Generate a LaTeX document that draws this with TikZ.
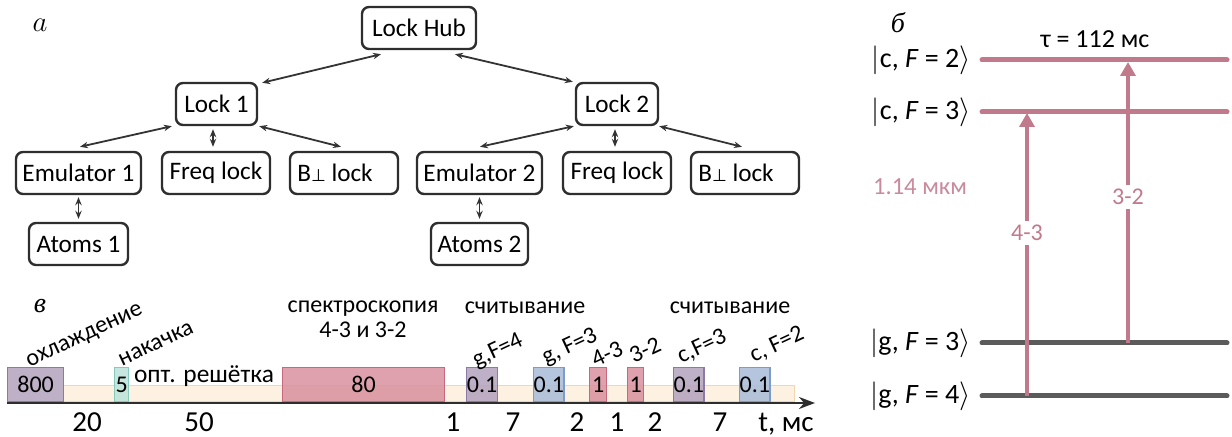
\documentclass[tikz,border=0pt]{standalone}
\usepackage{fontspec}
\setmainfont{Carlito}
\newfontfamily\panelfont{Liberation Serif}
\newfontfamily\symfont{DejaVu Sans}
\usetikzlibrary{arrows.meta,calc}

\definecolor{boxline}{HTML}{2E2E2E}
\definecolor{linkcol}{HTML}{333333}
\definecolor{lvlpink}{HTML}{C17A8B}
\definecolor{lvlgray}{HTML}{5B5B5B}
\definecolor{wavecol}{HTML}{C98A9B}
\definecolor{bandfill}{HTML}{FDF1E1}
\definecolor{banddraw}{HTML}{F5D5B0}
\definecolor{purpfill}{HTML}{B3A2BD}
\definecolor{purpdraw}{HTML}{8C7AA4}
\definecolor{tealfill}{HTML}{BCE3DA}
\definecolor{tealdraw}{HTML}{86CABE}
\definecolor{redfill}{HTML}{D9909F}
\definecolor{reddraw}{HTML}{C8687C}
\definecolor{bluefill}{HTML}{A9BBD8}
\definecolor{bluedraw}{HTML}{7D9BCB}

\newcommand{\perpsym}{{\symfont\fontsize{8.5}{8.5}\selectfont ⊥}}
\newcommand{\ketlbl}[2]{$|$#1, \textit{F} = #2$\rangle$}

\begin{document}
\begin{tikzpicture}[x=0.5pt,y=-0.5pt,
  txt/.style={font=\fontsize{12}{14}\selectfont, inner sep=1pt},
  blk/.style={draw=boxline, line width=1.2pt, rounded corners=3.5pt, fill=white,
    minimum height=21pt, inner sep=0pt, font=\fontsize{12.6}{14}\selectfont},
  link/.style={{Stealth[length=4pt,width=3.2pt]}-{Stealth[length=4pt,width=3.2pt]},
    line width=0.9pt, draw=linkcol},
  level/.style={line width=2.5pt, line cap=round},
  ketstyle/.style={font=\fontsize{14}{16}\selectfont, inner sep=1pt, anchor=east},
  trans/.style={line width=2pt, draw=lvlpink, -{Triangle[length=7pt,width=7.5pt]}},
  pulse/.style n args={2}{draw=#2, fill=#1, fill opacity=0.85, line width=0.6pt,
    anchor=south west, minimum height=17pt, inner sep=0pt, text opacity=1,
    font=\fontsize{12}{14}\selectfont},
  tick/.style={font=\fontsize{14.5}{16}\selectfont, inner sep=1pt, anchor=base},
  tilted/.style={font=\fontsize{12}{14}\selectfont, rotate=25, inner sep=0pt},
  plabel/.style={font=\panelfont\itshape\fontsize{14}{16}\selectfont, inner sep=0pt},
  axisline/.style={line width=1.2pt, draw=boxline, -{Stealth[length=8pt,width=6pt]}}
]
\useasboundingbox (0,0) rectangle (1232,437);

% ---------------- panel a: lock tree ----------------
\node[plabel] (la) at (40,25) {$a$};

\node[blk, minimum width=57pt] (hub) at (419,28) {Lock Hub};
\node[blk, minimum width=40.5pt] (l1) at (216.5,104) {Lock 1};
\node[blk, minimum width=41pt] (l2) at (617,104) {Lock 2};

\node[blk, minimum width=62.5pt] (em1) at (78.5,173) {Emulator 1};
\node[blk, minimum width=54pt] (fq1) at (216,173) {Freq lock};
\node[blk, minimum width=54pt] (bp1) at (344,173) {B\perpsym{} lock\hspace*{9pt}};
\node[blk, minimum width=62.5pt] (em2) at (479.5,173) {Emulator 2};
\node[blk, minimum width=54pt] (fq2) at (617,173) {Freq lock};
\node[blk, minimum width=54pt] (bp2) at (745,173) {B\perpsym{} lock\hspace*{9pt}};

\node[blk, minimum width=49.5pt] (at1) at (78.5,244) {Atoms 1};
\node[blk, minimum width=48.5pt] (at2) at (479.5,244) {Atoms 2};

\draw[link] ($(hub.south)+(-38,4)$) -- ($(l1.north east)+(4,1)$);
\draw[link] ($(hub.south)+(36,4)$) -- ($(l2.north west)+(-2,0)$);

\draw[link] ($(l1.south west)+(-3,0)$) -- ($(em1.north)+(1.5,-4)$);
\draw[link] ($(l1.south)+(-3.5,3)$) -- ($(fq1.north)+(-3,-4)$);
\draw[link] ($(l1.south east)+(1,0)$) -- ($(bp1.north)+(-3,-4)$);

\draw[link] ($(l2.south west)+(-1,0)$) -- ($(em2.north)+(0.5,-4)$);
\draw[link] ($(l2.south)+(-2,3)$) -- ($(fq2.north)+(-2,-4)$);
\draw[link] ($(l2.south east)+(0,0)$) -- ($(bp2.north)+(-3,-4)$);

\draw[link] ($(em1.south)+(0,2)$) -- ($(at1.north)+(0,-3)$);
\draw[link] ($(em2.south)+(0,2)$) -- ($(at2.north)+(0,-3)$);

% ---------------- panel b: level scheme ----------------
\node[plabel] (lb) at (898,23) {б};
\node[txt, font=\fontsize{13}{15}\selectfont] (tau) at (1095,39) {τ = 112 мс};

\coordinate (c2a) at (982,60);  \coordinate (c2b) at (1227,60);
\coordinate (c3a) at (982,112); \coordinate (c3b) at (1227,112);
\coordinate (g3a) at (982,343); \coordinate (g3b) at (1227,343);
\coordinate (g4a) at (982,396); \coordinate (g4b) at (1227,396);

\draw[level, draw=lvlpink] (c2a) -- (c2b);
\draw[level, draw=lvlpink] (c3a) -- (c3b);
\draw[level, draw=lvlgray] (g3a) -- (g3b);
\draw[level, draw=lvlgray] (g4a) -- (g4b);

\node[ketstyle] (kc2) at (973,60) {\ketlbl{c}{2}};
\node[ketstyle] (kc3) at (973,112) {\ketlbl{c}{3}};
\node[ketstyle] (kg3) at (973,343) {\ketlbl{g}{3}};
\node[ketstyle] (kg4) at (973,396) {\ketlbl{g}{4}};

\node[txt, text=wavecol, font=\fontsize{12.3}{14}\selectfont] (wl) at (920,187) {1.14 мкм};

\coordinate (t43a) at (1027,396); \coordinate (t43b) at (1027,113);
\coordinate (t32a) at (1128,343); \coordinate (t32b) at (1128,62);
\draw[trans] (t43a) -- (t43b);
\draw[trans] (t32a) -- (t32b);
\node[txt, text=lvlpink, fill=white, inner sep=2pt] (l43) at (1027,233) {4-3};
\node[txt, text=lvlpink, fill=white, inner sep=2pt] (l32) at (1128,197) {3-2};

% ---------------- panel c: timing sequence ----------------
\node[plabel] (lc) at (40,306) {в};

\fill[bandfill, draw=banddraw, line width=0.5pt] (63,386) rectangle (794,402);

\node[pulse={purpfill}{purpdraw}, minimum width=28pt]   (p800) at (7,402)   {800};
\node[pulse={tealfill}{tealdraw}, minimum width=7pt]    (p5)   at (114,402) {5};
\node[pulse={redfill}{reddraw},   minimum width=81pt]   (p80)  at (282,402) {80};
\node[pulse={purpfill}{purpdraw}, minimum width=15.5pt] (pg4)  at (466,402) {0.1};
\node[pulse={bluefill}{bluedraw}, minimum width=14.5pt] (pg3)  at (533,402) {0.1};
\node[pulse={redfill}{reddraw},   minimum width=8.5pt]  (p43)  at (589,402) {1};
\node[pulse={redfill}{reddraw},   minimum width=8pt]    (p32)  at (627,402) {1};
\node[pulse={purpfill}{purpdraw}, minimum width=14.5pt] (pc3)  at (673,402) {0.1};
\node[pulse={bluefill}{bluedraw}, minimum width=15pt]   (pc2)  at (739,402) {0.1};

\node[txt, anchor=base, font=\fontsize{12.7}{14}\selectfont] (lat) at (204,383) {опт. решётка};

\coordinate (ax0) at (7,403);
\coordinate (ax1) at (815,403);
\draw[axisline] (ax0) -- (ax1);

\foreach \x/\v [count=\i] in {87/20, 199/50, 453/1, 513/7, 577/2, 617/1, 655/2, 720/7}
  \node[tick] (d\i) at (\x,432) {\v};
\node[tick] (tunit) at (786,432) {t, мс};

\node[tilted] (cool) at (85,337) {охлаждение};
\node[tilted] (pump) at (156,344) {накачка};
\node[txt] (spec1) at (363,309) {спектроскопия};
\node[txt] (spec2) at (363,330) {4-3 и 3-2};
\node[txt] (rd1) at (525,308) {считывание};
\node[txt] (rd2) at (730,308) {считывание};
\node[tilted] (rg4) at (498,351) {g,F=4};
\node[tilted] (rg3) at (570,347) {g, F=3};
\node[tilted] (r43) at (607,354) {4-3};
\node[tilted] (r32) at (645,350) {3-2};
\node[tilted] (rc3) at (702,347) {c,F=3};
\node[tilted] (rc2) at (777,345) {c, F=2};

\end{tikzpicture}
\end{document}
